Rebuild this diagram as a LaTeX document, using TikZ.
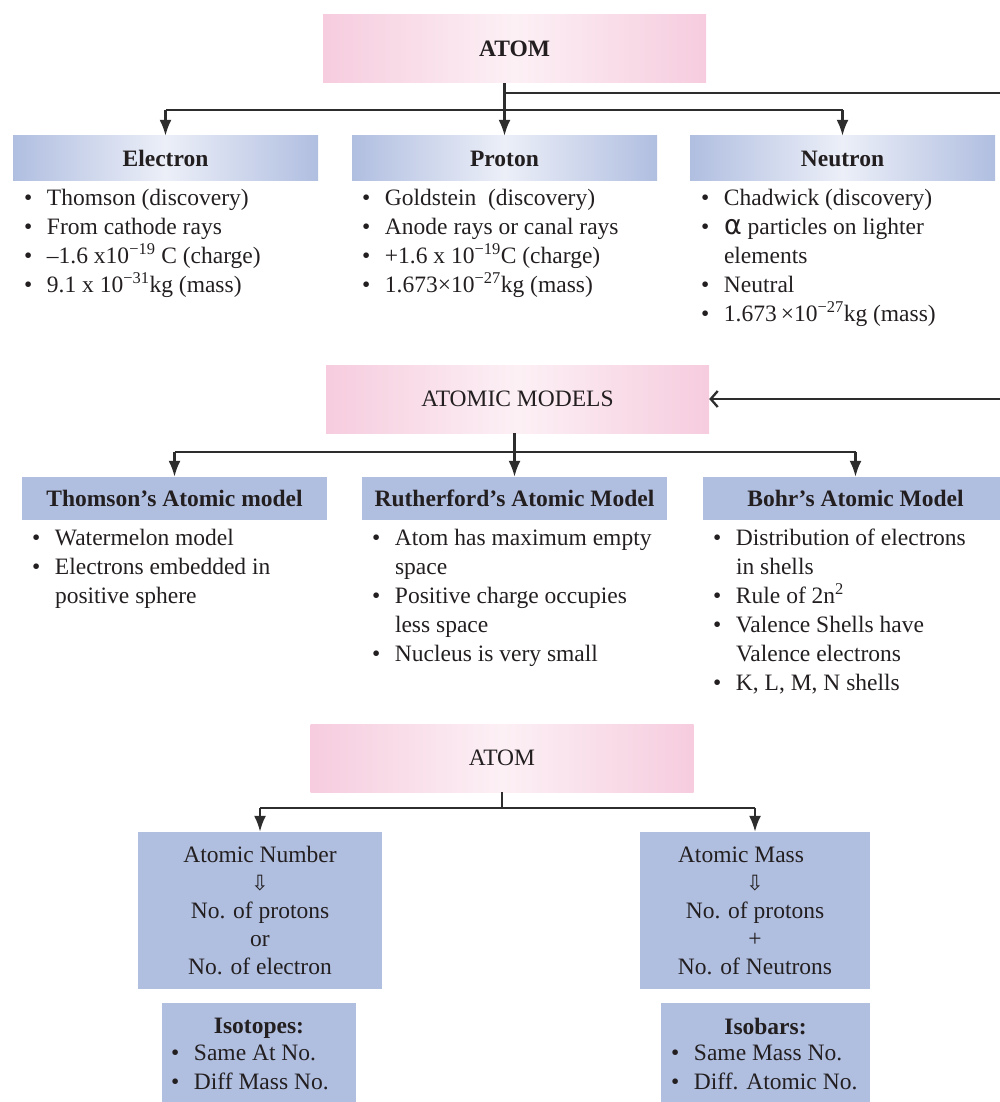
\documentclass[tikz,border=0pt]{standalone}
\usepackage{fontspec}
\setmainfont{Liberation Serif}
\newfontfamily\symfont{DejaVu Sans}
\usetikzlibrary{arrows.meta,positioning}

\definecolor{pinkedge}{RGB}{246,204,222}
\definecolor{pinkmid}{RGB}{252,240,245}
\definecolor{blueedge}{RGB}{176,190,224}
\definecolor{bluemid}{RGB}{236,239,248}
\definecolor{linegray}{RGB}{45,45,45}
\definecolor{textgray}{RGB}{35,31,32}

\newcommand{\itm}{\makebox[23pt][l]{\textbullet}}
\newcommand{\cont}{\hspace*{23pt}}
\newcommand{\arr}{{\symfont\fontsize{21}{28}\selectfont ⇩}}

\tikzset{
    every node/.style={font=\fontsize{23.5}{29}\selectfont, text=textgray},
    titlebox/.style={left color=pinkedge, right color=pinkedge, middle color=pinkmid,
        minimum width=383pt, minimum height=68pt, inner sep=0pt},
    headbox/.style={left color=blueedge, right color=blueedge, middle color=bluemid,
        minimum width=305pt, minimum height=45pt, inner sep=0pt,
        font=\fontsize{23.5}{29}\selectfont\bfseries},
    modelbox/.style={fill=blueedge, minimum width=305pt, minimum height=43pt, inner sep=0pt,
        font=\fontsize{23.5}{29}\selectfont\bfseries},
    infobox/.style={fill=blueedge, align=center, inner sep=0pt,
        font=\fontsize{23.5}{28}\selectfont},
    list/.style={align=left, inner sep=0pt},
    link/.style={draw=linegray, line width=2.3pt},
    down/.style={link, -{Latex[length=16pt,width=12pt]}},
}

\begin{document}
\begin{tikzpicture}[x=1pt,y=-1pt]
    \useasboundingbox (0,0) rectangle (999,1102);

    \node[titlebox, font=\fontsize{23.5}{29}\selectfont\bfseries] (atom) at (514.5,49) {ATOM};
    \node[headbox] (electron) at (165.5,158.5) {Electron};
    \node[headbox] (proton) at (504.5,158.5) {Proton};
    \node[headbox] (neutron) at (842.5,158.5) {Neutron};

    \node[list, below right=8pt and 11pt of electron.south west] (electronlist)
        {\itm Thomson (discovery)\\ \itm From cathode rays\\
         \itm –1.6 x10\textsuperscript{−19} C (charge)\\ \itm 9.1 x 10\textsuperscript{−31}kg (mass)};
    \node[list, below right=8pt and 10pt of proton.south west] (protonlist)
        {\itm Goldstein\ \ (discovery)\\ \itm Anode rays or canal rays\\
         \itm +1.6 x 10\textsuperscript{−19}C (charge)\\ \itm 1.673×10\textsuperscript{−27}kg (mass)};
    \node[list, below right=8pt and 11pt of neutron.south west] (neutronlist)
        {\itm Chadwick (discovery)\\ \itm {\symfont\fontsize{27}{29}\selectfont α} particles on lighter\\ \cont elements\\
         \itm Neutral\\ \itm 1.673\,×10\textsuperscript{−27}kg (mass)};

    \coordinate (bar1) at ([yshift=26pt]electron.north);
    \draw[link] (bar1) -- (bar1 -| neutron.north);
    \draw[link] (atom.south -| proton.north) -- (bar1 -| proton.north);
    \foreach \n in {electron,proton,neutron}
        \draw[down] (bar1 -| \n.north) -- (\n.north);

    \node[titlebox] (models) at (517.5,399) {ATOMIC MODELS};
    \draw[link, -{Straight Barb[length=7pt,width=16pt]}] ([yshift=-10pt]atom.south -| proton.north)
        -- ++(505,0) |- (models.east);

    \node[modelbox] (thomson) at (174.5,498.5) {Thomson’s Atomic model};
    \node[modelbox] (rutherford) at (514.5,498.5) {Rutherford’s Atomic Model};
    \node[modelbox] (bohr) at (855.5,498.5) {Bohr’s Atomic Model};

    \node[list, below right=9pt and 10pt of thomson.south west] (thomsonlist)
        {\itm Watermelon model\\ \itm Electrons embedded in\\ \cont positive sphere};
    \node[list, below right=9pt and 10pt of rutherford.south west] (rutherfordlist)
        {\itm Atom has maximum empty\\ \cont space\\ \itm Positive charge occupies\\
         \cont less space\\ \itm Nucleus is very small};
    \node[list, below right=9pt and 10pt of bohr.south west] (bohrlist)
        {\itm Distribution of electrons\\ \cont in shells\\ \itm Rule of 2n\textsuperscript{2}\\
         \itm Valence Shells have\\ \cont Valence electrons\\ \itm K, L, M, N shells};

    \coordinate (bar2) at ([yshift=25pt]thomson.north);
    \draw[link] (bar2) -- (bar2 -| bohr.north);
    \draw[link] (models.south -| rutherford.north) -- (bar2 -| rutherford.north);
    \foreach \n in {thomson,rutherford,bohr}
        \draw[down] (bar2 -| \n.north) -- (\n.north);

    \node[titlebox] (atom2) at (502,758) {ATOM};
    \node[infobox, minimum width=244pt, minimum height=157pt] (anumber) at (260,910.5)
        {Atomic Number\\ \arr\\ No. of protons\\ or\\ No. of electron};
    \node[infobox, minimum width=230pt, minimum height=157pt] (amass) at (755,910.5)
        {Atomic Mass\hspace*{28pt}\\ \arr\\ No. of protons\\ +\\ No. of Neutrons};

    \coordinate (bar3) at ([yshift=24pt]anumber.north);
    \draw[link] (bar3) -- (bar3 -| amass.north);
    \draw[link] (atom2.south) -- (atom2.south |- bar3);
    \foreach \n in {anumber,amass}
        \draw[down] (bar3 -| \n.north) -- (\n.north);

    \node[infobox, minimum width=194pt, minimum height=110pt, anchor=north] (isotopes) at (259,1003) {};
    \node[font=\fontsize{23.5}{29}\selectfont\bfseries, below=12pt of isotopes.north] (isotopestitle) {Isotopes:};
    \node[list, below right=42pt and 9pt of isotopes.north west] (isotopeslist)
        {\itm Same At No.\\ \itm Diff Mass No.};

    \node[infobox, minimum width=209pt, minimum height=110pt, anchor=north] (isobars) at (765.5,1003) {};
    \node[font=\fontsize{23.5}{29}\selectfont\bfseries, below=12pt of isobars.north] (isobarstitle) {Isobars:};
    \node[list, below right=42pt and 10pt of isobars.north west] (isobarslist)
        {\itm Same Mass No.\\ \itm Diff. Atomic No.};

\end{tikzpicture}
\end{document}
